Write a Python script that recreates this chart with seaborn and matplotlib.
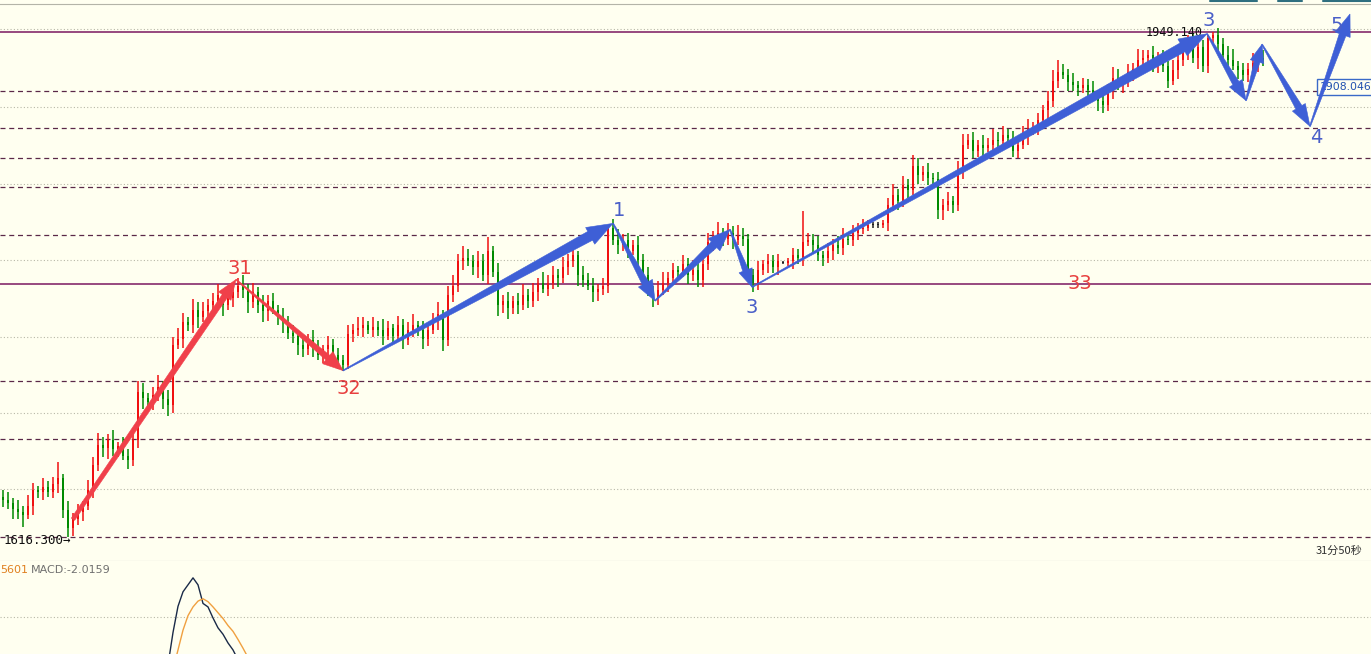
import numpy as np
import matplotlib
matplotlib.use("Agg")
import matplotlib.pyplot as plt
import seaborn as sns
import pandas as pd
from matplotlib.patches import Polygon
from matplotlib.transforms import IdentityTransform
from matplotlib.lines import Line2D

#candles, one per bar
close = [1641, 1639, 1635, 1633, 1631, 1637, 1647, 1646, 1649, 1646,
         1651, 1655, 1634, 1622, 1628, 1633, 1637, 1647, 1664, 1677,
         1675, 1680, 1674, 1676, 1670, 1667, 1680, 1712, 1708, 1705,
         1710, 1715, 1707, 1703, 1743, 1747, 1758, 1756, 1766, 1761,
         1765, 1769, 1772, 1776, 1769, 1774, 1778, 1782, 1779, 1771,
         1778, 1769, 1765, 1772, 1766, 1761, 1758, 1751, 1749, 1743,
         1740, 1746, 1741, 1736, 1740, 1743, 1736, 1733, 1730, 1750,
         1753, 1754, 1756, 1753, 1755, 1753, 1749, 1754, 1749, 1756,
         1746, 1753, 1756, 1753, 1747, 1753, 1759, 1763, 1746, 1776,
         1782, 1798, 1800, 1798, 1794, 1798, 1789, 1805, 1791, 1769,
         1772, 1767, 1772, 1769, 1776, 1772, 1778, 1784, 1780, 1784,
         1789, 1787, 1794, 1798, 1802, 1789, 1786, 1782, 1778, 1780,
         1782, 1820, 1812, 1809, 1812, 1805, 1809, 1799, 1789, 1779,
         1774, 1779, 1784, 1787, 1792, 1791, 1796, 1789, 1792, 1786,
         1796, 1811, 1813, 1817, 1813, 1817, 1812, 1815, 1813, 1789,
         1784, 1792, 1796, 1798, 1794, 1798, 1797, 1798, 1802, 1800,
         1811, 1812, 1809, 1802, 1800, 1805, 1809, 1807, 1813, 1812,
         1817, 1819, 1820, 1822, 1822, 1822, 1823, 1835, 1842, 1838,
         1848, 1845, 1861, 1855, 1857, 1853, 1852, 1832, 1835, 1838,
         1835, 1858, 1875, 1878, 1871, 1875, 1873, 1875, 1878, 1877,
         1881, 1879, 1871, 1875, 1881, 1885, 1886, 1891, 1898, 1904,
         1917, 1923, 1921, 1916, 1914, 1912, 1914, 1911, 1908, 1904,
         1901, 1911, 1919, 1914, 1917, 1923, 1925, 1931, 1932, 1934,
         1929, 1932, 1927, 1917, 1924, 1931, 1936, 1941, 1932, 1939,
         1927, 1945, 1947, 1941, 1934, 1931, 1927, 1924, 1921, 1925,
         1929, 1932, 1931]

open_ = [1643, 1641, 1639, 1635, 1633, 1631, 1637, 1647, 1646, 1649,
         1646, 1651, 1655, 1634, 1622, 1628, 1633, 1637, 1647, 1664,
         1677, 1675, 1680, 1674, 1676, 1670, 1667, 1680, 1712, 1708,
         1705, 1710, 1715, 1707, 1703, 1743, 1747, 1758, 1756, 1766,
         1761, 1765, 1769, 1772, 1776, 1769, 1774, 1778, 1782, 1779,
         1771, 1778, 1769, 1765, 1772, 1766, 1761, 1758, 1751, 1749,
         1743, 1740, 1746, 1741, 1736, 1740, 1743, 1736, 1733, 1730,
         1750, 1753, 1754, 1756, 1753, 1755, 1753, 1749, 1754, 1749,
         1756, 1746, 1753, 1756, 1753, 1747, 1753, 1759, 1763, 1746,
         1776, 1782, 1798, 1800, 1798, 1794, 1798, 1789, 1805, 1791,
         1769, 1772, 1767, 1772, 1769, 1776, 1772, 1778, 1784, 1780,
         1784, 1789, 1787, 1794, 1798, 1802, 1789, 1786, 1782, 1778,
         1780, 1782, 1820, 1812, 1809, 1812, 1805, 1809, 1799, 1789,
         1779, 1774, 1779, 1784, 1787, 1792, 1791, 1796, 1789, 1792,
         1786, 1796, 1811, 1813, 1817, 1813, 1817, 1812, 1815, 1813,
         1789, 1784, 1792, 1796, 1798, 1794, 1797, 1797, 1798, 1802,
         1800, 1811, 1812, 1809, 1802, 1800, 1805, 1809, 1807, 1813,
         1812, 1817, 1819, 1820, 1822, 1822, 1822, 1823, 1835, 1842,
         1838, 1848, 1845, 1861, 1855, 1857, 1853, 1852, 1832, 1835,
         1838, 1835, 1858, 1875, 1878, 1871, 1875, 1873, 1875, 1878,
         1877, 1881, 1879, 1871, 1875, 1881, 1885, 1886, 1891, 1898,
         1904, 1917, 1923, 1921, 1916, 1914, 1912, 1914, 1911, 1908,
         1904, 1901, 1911, 1919, 1914, 1917, 1923, 1925, 1931, 1932,
         1934, 1929, 1932, 1927, 1917, 1924, 1931, 1936, 1941, 1932,
         1939, 1927, 1945, 1947, 1941, 1934, 1931, 1927, 1924, 1921,
         1925, 1929, 1932]

wick_up = [4, 5, 3, 6, 4, 7, 5, 3, 6, 4,
           5, 11, 3, 6, 4, 5, 3, 7, 5, 8,
           5, 4, 7, 3, 6, 4, 5, 7, 6, 3,
           5, 8, 4, 6, 5, 7, 6, 3, 7, 5,
           6, 4, 5, 7, 3, 6, 4, 5, 7, 4,
           6, 3, 7, 4, 5, 3, 6, 4, 5, 3,
           5, 4, 7, 5, 3, 6, 4, 5, 3, 6,
           4, 7, 5, 3, 6, 4, 7, 5, 3, 6,
           4, 5, 7, 3, 6, 4, 5, 8, 3, 6,
           7, 5, 8, 6, 4, 7, 5, 9, 3, 6,
           4, 6, 3, 5, 7, 4, 6, 3, 7, 5,
           6, 4, 7, 5, 8, 3, 6, 4, 5, 3,
           5, 2, 6, 7, 4, 5, 3, 6, 4, 5,
           3, 6, 7, 4, 5, 3, 6, 4, 7, 5,
           4, 6, 5, 7, 3, 6, 4, 7, 5, 3,
           4, 6, 3, 5, 4, 5, 1, 2, 5, 4,
           20, 5, 4, 6, 3, 5, 4, 6, 7, 4,
           5, 4, 6, 3, 2, 2, 2, 5, 7, 4,
           6, 4, 7, 5, 4, 6, 3, 5, 4, 6,
           3, 6, 7, 4, 5, 3, 6, 4, 7, 5,
           6, 4, 5, 3, 6, 7, 4, 5, 3, 6,
           7, 8, 5, 4, 6, 3, 5, 4, 6, 3,
           5, 4, 7, 6, 3, 5, 4, 7, 5, 3,
           6, 4, 5, 3, 7, 5, 4, 6, 7, 3,
           5, 2, 2, 5, 4, 6, 7, 3, 5, 4,
           6, 4, 5]

wick_dn = [5, 4, 7, 5, 8, 3, 6, 4, 5, 3,
           4, 6, 5, 6, 5, 4, 6, 3, 5, 4,
           6, 7, 4, 5, 3, 6, 4, 5, 7, 3,
           5, 4, 6, 7, 5, 3, 6, 4, 5, 7,
           3, 6, 4, 5, 7, 3, 6, 4, 5, 7,
           4, 5, 7, 6, 3, 5, 7, 4, 5, 7,
           5, 4, 6, 3, 5, 7, 4, 6, 4, 3,
           5, 4, 6, 3, 5, 4, 6, 3, 5, 4,
           6, 3, 5, 4, 7, 5, 3, 6, 7, 4,
           5, 4, 6, 3, 5, 7, 4, 6, 3, 7,
           5, 7, 4, 6, 3, 5, 4, 6, 3, 5,
           4, 6, 3, 5, 4, 7, 5, 3, 7, 6,
           4, 5, 3, 6, 4, 5, 3, 6, 7, 4,
           6, 5, 3, 6, 4, 5, 3, 6, 4, 5,
           5, 4, 6, 3, 5, 4, 6, 3, 5, 4,
           6, 5, 3, 6, 4, 5, 1, 2, 5, 4,
           5, 3, 6, 4, 5, 3, 6, 4, 5, 3,
           4, 5, 3, 2, 2, 2, 2, 5, 4, 6,
           4, 5, 3, 6, 4, 5, 3, 6, 7, 4,
           5, 4, 6, 3, 5, 4, 6, 3, 5, 4,
           3, 6, 4, 5, 3, 6, 4, 5, 3, 6,
           4, 5, 3, 6, 4, 5, 3, 6, 4, 7,
           5, 4, 6, 3, 5, 4, 6, 3, 5, 4,
           6, 7, 4, 5, 3, 6, 4, 5, 3, 7,
           4, 5, 3, 6, 4, 5, 3, 6, 4, 5,
           3, 6, 4]

#horizontal levels
dashed_levels = [1910.2, 1885.8, 1866.1, 1846.9, 1815.3, 1719.1, 1680.9, 1616.3]
solid_levels = [1949.14, 1783.0]
grid_levels = [1648, 1698, 1748, 1799, 1849, 1900, 1951]

#wave pivots (bar index, price)
red_wave_x = [14, 46.6, 68]
red_wave_y = [1628, 1786, 1726]
red_labels = ["31", "32", "33"]
red_label_x = [47.4, 69.2, 215.4]
red_label_y = [1793, 1714.5, 1783.7]

blue_wave_x = [68, 122, 130.4, 145.4, 149.8, 240.8, 248.6, 251.8, 261.4, 269.4]
blue_wave_y = [1726, 1823, 1772, 1819, 1781, 1948, 1904, 1941, 1887, 1961]
blue_labels = ["1", "3", "3", "4", "5"]
blue_label_x = [123.2, 149.8, 241.2, 262.6, 266.8]
blue_label_y = [1831.2, 1767.9, 1957.0, 1879.9, 1953.7]

#macd panel
macd_idx = [33, 34, 35, 36, 37, 38, 39, 40, 41, 42, 43, 44, 45, 46, 47, 48, 49]
dif = [-8.3, -2.7, 1.8, 4.3, 5.5, 6.7, 5.5, 2.3, 1.7, -0.2, -1.9, -3.0, -4.5, -5.7, -7.4, -9.0, -10.5]
dea = [-12.0, -9.1, -5.7, -2.3, 0.2, 1.7, 2.7, 3.1, 2.6, 1.7, 0.7, -0.3, -1.5, -2.5, -3.9, -5.4, -7.0]

BG = "#FFFFF0"
UP = "#F01010"
DOWN = "#008A00"
RED_ARROW = "#F0404A"
BLUE_ARROW = "#3E5FD6"

sns.set_style("white")
plt.rcParams["font.family"] = ["DejaVu Sans", "Noto Sans CJK SC"]

fig = plt.figure(figsize=(13.71, 6.54), dpi=100, facecolor=BG)
ax = fig.add_axes([0, 93 / 654, 1, 557 / 654], facecolor=BG)
ax2 = fig.add_axes([0, 0, 1, 93 / 654], facecolor=BG)

ax.set_xlim(-0.6, 273.6)
ax.set_ylim(1600.5, 1967.6)
ax2.set_xlim(-0.6, 273.6)
ax2.set_ylim(-6.4, 9.6)

for a in (ax, ax2):
    a.set_xticks([])
    a.set_yticks([])
    for s in a.spines.values():
        s.set_visible(False)
ax.spines["top"].set_visible(True)
ax.spines["top"].set_color("#B4B4A8")
ax.spines["bottom"].set_visible(True)
ax.spines["bottom"].set_color("#B4B4A8")

#levels
for lv in grid_levels:
    ax.axhline(lv, color="#B8B8A8", lw=0.8, ls=(0, (1, 2)), zorder=1)
for lv in dashed_levels:
    ax.axhline(lv, color="#5A2848", lw=0.9, ls=(0, (4, 3)), zorder=1)
for lv in solid_levels:
    ax.axhline(lv, color="#7A1860", lw=1.1, zorder=1)

#candles
df = pd.DataFrame({"open": open_, "close": close, "wu": wick_up, "wd": wick_dn})
df["idx"] = np.arange(len(df))
df["hi"] = df[["open", "close"]].max(axis=1) + df["wu"]
df["lo"] = df[["open", "close"]].min(axis=1) - df["wd"]
df.loc[242, "hi"] = 1949.14
df.loc[13, "lo"] = 1616.3
cols = np.where(df["close"] > df["open"], UP, np.where(df["close"] < df["open"], DOWN, "#202020"))
ax.vlines(df["idx"], df["lo"], df["hi"], colors=cols, lw=1.1, zorder=3)
body_h = np.maximum((df["close"] - df["open"]).abs(), 0.7)
ax.bar(df["idx"], body_h, bottom=df[["open", "close"]].min(axis=1), width=0.55,
       color=cols, linewidth=0, zorder=3)


def taper_arrow(a, x0, y0, x1, y1, color, w0, w1, hw, hl):
    p0 = a.transData.transform((x0, y0))
    p1 = a.transData.transform((x1, y1))
    d = p1 - p0
    u = d / np.hypot(*d)
    n = np.array([-u[1], u[0]])
    base = p1 - u * hl
    pts = [p0 + n * w0 / 2, base + n * w1 / 2, base + n * hw / 2, p1,
           base - n * hw / 2, base - n * w1 / 2, p0 - n * w0 / 2]
    a.add_patch(Polygon(pts, closed=True, transform=IdentityTransform(),
                        fc=color, ec=color, lw=0.4, zorder=6, clip_on=False))


red_style = [(4, 6, 15, 20), (1, 6, 16, 20)]
for k in range(len(red_wave_x) - 1):
    w0, w1, hw, hl = red_style[k]
    taper_arrow(ax, red_wave_x[k], red_wave_y[k], red_wave_x[k + 1], red_wave_y[k + 1],
                RED_ARROW, w0, w1, hw, hl)

blue_style = [(1, 10, 19, 26), (1, 7, 16, 20), (1, 8, 17, 22), (1, 6, 14, 18), (1, 10, 19, 28),
              (1, 7, 15, 20), (1, 6, 14, 18), (1, 7, 15, 22), (1, 7, 16, 22)]
for k in range(len(blue_wave_x) - 1):
    w0, w1, hw, hl = blue_style[k]
    taper_arrow(ax, blue_wave_x[k], blue_wave_y[k], blue_wave_x[k + 1], blue_wave_y[k + 1],
                BLUE_ARROW, w0, w1, hw, hl)

for t, x, y in zip(red_labels, red_label_x, red_label_y):
    ax.text(x, y, t, color="#E8403F", fontsize=14, ha="center", va="center", zorder=7)
for t, x, y in zip(blue_labels, blue_label_x, blue_label_y):
    ax.text(x, y, t, color="#4A5FC8", fontsize=14, ha="center", va="center", zorder=7)

#price tags
ax.text(240, 1949.1, "1949.140", fontsize=8.5, family="DejaVu Sans Mono", color="#101010",
        ha="right", va="center", zorder=5)
ax.text(0.2, 1613.7, "1616.300\u2192", fontsize=9, family="DejaVu Sans Mono", color="#101010",
        ha="left", va="center", zorder=5)
ax.text(263.4, 1912.9, "1908.046", fontsize=7.8, color="#2050B0", ha="left", va="center", zorder=4,
        clip_on=False, bbox=dict(boxstyle="square,pad=0.3", fc=BG, ec="#3A6AC8", lw=1))
ax.text(271.8, 1607.1, "31分50秒", fontsize=8, family=["Noto Sans CJK SC", "DejaVu Sans"],
        color="#303030", ha="right", va="center", zorder=5)

#macd
mdf = pd.DataFrame({"idx": macd_idx, "dif": dif, "dea": dea})
ax2.axhline(0, color="#B8B8A8", lw=0.8, ls=(0, (1, 2)), zorder=1)
sns.lineplot(data=mdf, x="idx", y="dif", ax=ax2, color="#1A2A48", lw=1.0)
sns.lineplot(data=mdf, x="idx", y="dea", ax=ax2, color="#F0A040", lw=1.0)
ax2.set_xlabel("")
ax2.set_ylabel("")
ax2.text(-0.5, 8.0, "5601", fontsize=8, color="#E08020", ha="left", va="center")
ax2.text(5.6, 8.0, "MACD:-2.0159", fontsize=8, color="#707070", ha="left", va="center")

#partial toolbar marks at the top edge
for x0, x1 in [(1210, 1257), (1278, 1302), (1323, 1371)]:
    fig.add_artist(Line2D([x0 / 1371, x1 / 1371], [1 - 0.8 / 654, 1 - 0.8 / 654],
                          transform=fig.transFigure, color="#2F6F80", lw=1.5))

fig.savefig("out.png", dpi=100, facecolor=BG)
